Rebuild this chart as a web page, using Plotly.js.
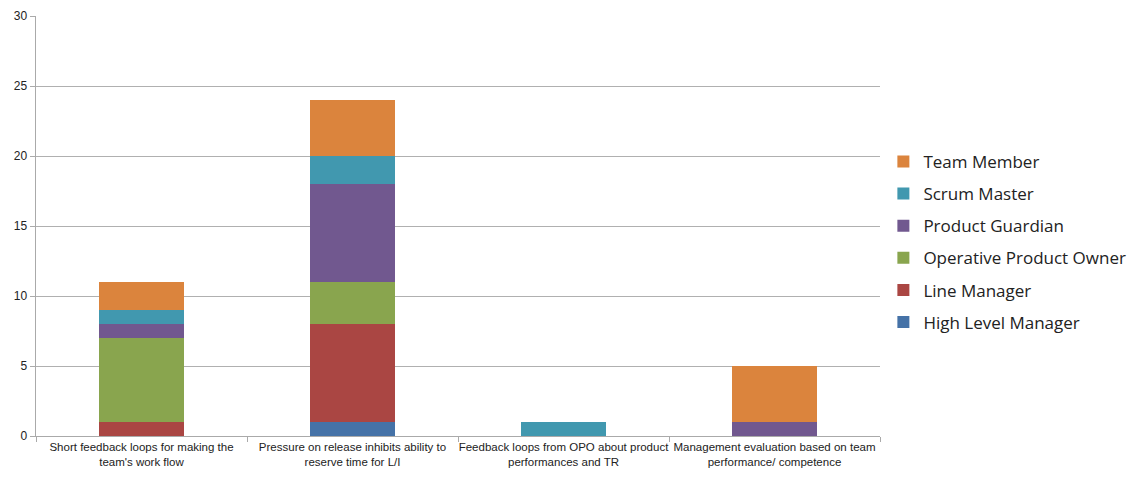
<!DOCTYPE html>
<html>
<head>
<meta charset="utf-8">
<script src="https://cdn.plot.ly/plotly-3.0.1.min.js"></script>
<style>html,body{margin:0;padding:0;background:#fff;}#chart{width:1140px;height:477px;}</style>
</head>
<body>
<div id="chart"></div>
<script>
const categories = [
  "Short feedback loops for making the<br>team's work flow",
  "Pressure on release inhibits ability to<br>reserve time for L/I",
  "Feedback loops from OPO about product<br>performances and TR",
  "Management evaluation based on team<br>performance/ competence"
];
const seriesNames = ["High Level Manager", "Line Manager", "Operative Product Owner", "Product Guardian", "Scrum Master", "Team Member"];
const highLevelManager = [0, 1, 0, 0];
const lineManager = [1, 7, 0, 0];
const operativeProductOwner = [6, 3, 0, 0];
const productGuardian = [1, 7, 0, 1];
const scrumMaster = [1, 2, 1, 0];
const teamMember = [2, 4, 0, 4];
const yTicks = [0, 5, 10, 15, 20, 25, 30];

const values = [highLevelManager, lineManager, operativeProductOwner, productGuardian, scrumMaster, teamMember];
const colors = ["#4572A7", "#AA4643", "#89A54E", "#71588F", "#4198AF", "#DB843D"];

const traces = seriesNames.map((n, i) => ({
  type: "bar",
  name: n,
  x: categories,
  y: values[i],
  legendgroup: "g" + i,
  legendrank: seriesNames.length - i,
  marker: {color: colors[i], line: {width: 0}},
  hoverinfo: "name+y"
}));

const layout = {
  width: 1140, height: 477,
  barmode: "stack",
  bargap: 0.6,
  margin: {l: 36, r: 260, t: 16, b: 41, autoexpand: false},
  paper_bgcolor: "#fff", plot_bgcolor: "#fff",
  font: {family: "Liberation Sans Narrow, Liberation Sans, sans-serif", color: "#333"},
  xaxis: {
    type: "category",
    tickson: "boundaries",
    tickangle: 0,
    ticks: "outside", ticklen: 5, tickcolor: "#aaa",
    showline: true, linecolor: "#aaa", linewidth: 1,
    showgrid: false,
    tickfont: {size: 11.5, color: "#222"},
    fixedrange: true
  },
  yaxis: {
    range: [0, 30],
    tickvals: yTicks,
    ticks: "outside", ticklen: 5, tickcolor: "#aaa",
    showline: true, linecolor: "#aaa", linewidth: 1.5,
    gridcolor: "#b0b0b0", gridwidth: 1,
    zeroline: false,
    tickfont: {size: 12, color: "#222"},
    fixedrange: true
  },
  legend: {
    x: 1.004, xanchor: "left", y: 0.462, yanchor: "middle",
    traceorder: "grouped",
    tracegroupgap: 7,
    font: {family: "Open Sans, Noto Sans, sans-serif", size: 17, color: "#222"}
  },
  showlegend: true
};

Plotly.newPlot("chart", traces, layout, {displayModeBar: false, staticPlot: true});
</script>
</body>
</html>
